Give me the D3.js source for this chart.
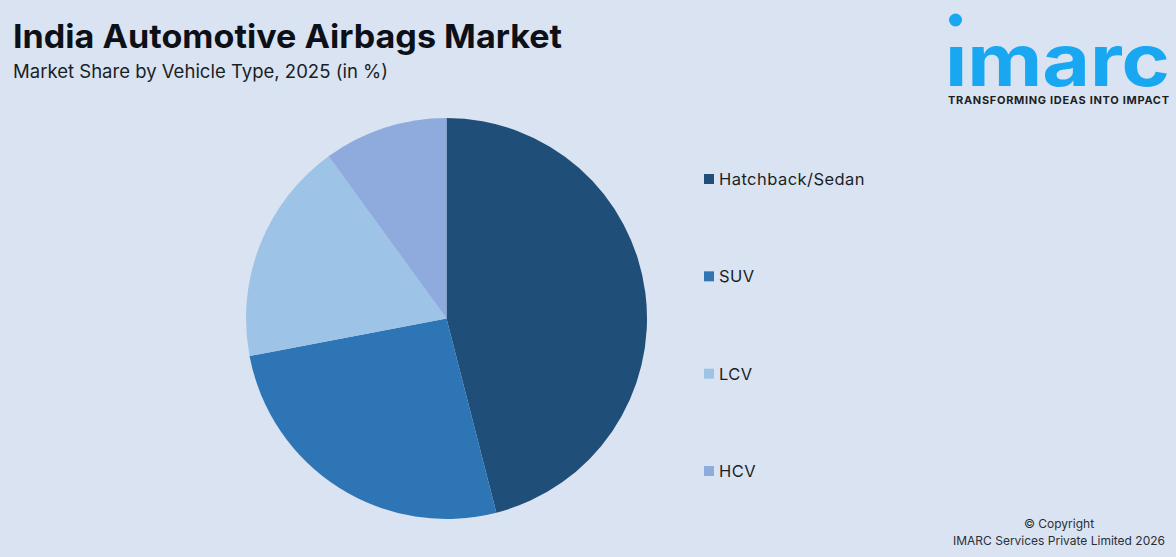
<!DOCTYPE html>
<html><head><meta charset="utf-8">
<script src="https://cdn.jsdelivr.net/npm/d3@7"></script>
<style>html,body{margin:0;padding:0;background:#dae3f2}svg{display:block}text{font-family:Inter,"Noto Sans",sans-serif}</style>
</head><body><svg id="c" width="1176" height="557"></svg>
<script>
const categories=["Hatchback/Sedan","SUV","LCV","HCV"];
const shares=[46,26,18,10];
const colors=["#1f4e79","#2e75b6","#9dc3e6","#8faadc"];
const titleText="India Automotive Airbags Market";
const subtitleText="Market Share by Vehicle Type, 2025 (in %)";
const copyrightLines=["© Copyright","IMARC Services Private Limited 2026"];
const svg=d3.select("#c");
svg.append("rect").attr("width",1176).attr("height",557).attr("fill","#dae3f2");
svg.append("text").attr("x",13).attr("y",48).attr("font-size",33).attr("font-weight",700).attr("fill","#0d1117").attr("textLength",549).attr("lengthAdjust","spacingAndGlyphs").text(titleText);
svg.append("text").attr("x",13).attr("y",78).attr("font-size",18.5).attr("fill","#1a1f26").attr("textLength",375).attr("lengthAdjust","spacingAndGlyphs").text(subtitleText);
const pie=d3.pie().sort(null).value(d=>d)(shares);
const arc=d3.arc().innerRadius(0).outerRadius(200.5);
svg.append("g").attr("transform","translate(446.5,318.5)").selectAll("path").data(pie).join("path").attr("d",arc).attr("fill",(d,i)=>colors[i]);
const ly=d3.scalePoint().domain(categories).range([179,471]);
const leg=svg.append("g").selectAll("g").data(categories).join("g").attr("transform",d=>`translate(0,${ly(d)})`);
leg.append("rect").attr("x",704).attr("y",-5).attr("width",10).attr("height",10).attr("fill",(d,i)=>colors[i]);
leg.append("text").attr("x",719).attr("y",6).attr("font-size",16.5).attr("letter-spacing",0.45).attr("fill","#1a1f26").text(d=>d);
const logo=svg.append("g");
logo.append("circle").attr("cx",955.5).attr("cy",20).attr("r",6.5).attr("fill","#1aa7f2");
logo.append("text").attr("x",945).attr("y",86).attr("font-size",72).attr("font-weight",700).attr("fill","#1aa7f2").attr("textLength",225).attr("lengthAdjust","spacingAndGlyphs").style("font-family","Inter").text("ımarc");
logo.append("text").attr("x",948).attr("y",104).attr("font-size",11).attr("font-weight",700).attr("fill","#1a1f26").attr("textLength",221).attr("lengthAdjust","spacing").text("TRANSFORMING IDEAS INTO IMPACT");
svg.append("g").selectAll("text").data(copyrightLines).join("text").attr("x",1059).attr("y",(d,i)=>528+i*17).attr("text-anchor","middle").attr("font-size",12).attr("fill","#2a2f36").text(d=>d);
</script></body></html>
